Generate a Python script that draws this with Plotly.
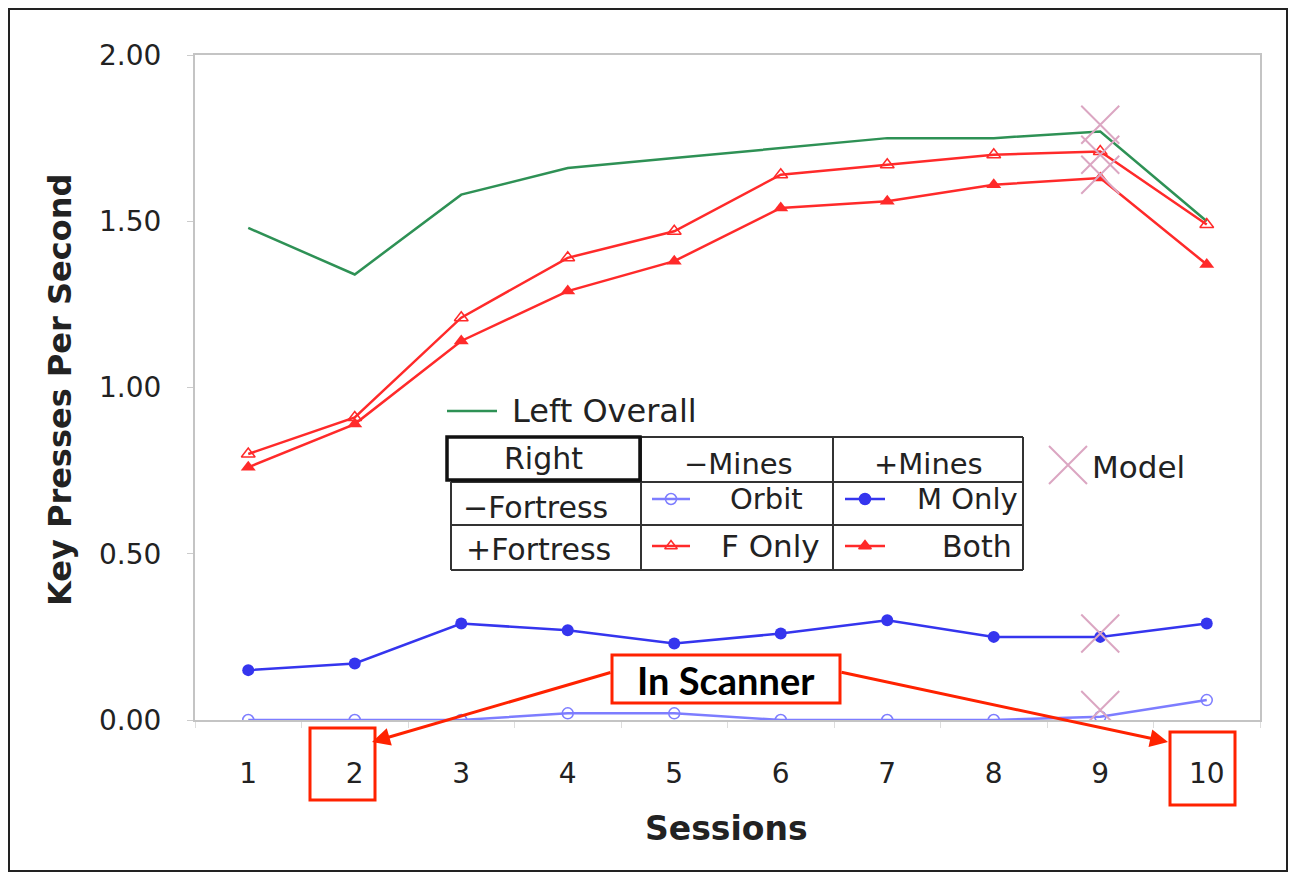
import plotly.graph_objects as go

# ---------------- data ----------------
sessions = ["1", "2", "3", "4", "5", "6", "7", "8", "9", "10"]
left_overall = [1.48, 1.34, 1.58, 1.66, 1.69, 1.72, 1.75, 1.75, 1.77, 1.50]
f_only = [0.80, 0.91, 1.21, 1.39, 1.47, 1.64, 1.67, 1.70, 1.71, 1.49]
both = [0.76, 0.89, 1.14, 1.29, 1.38, 1.54, 1.56, 1.61, 1.63, 1.37]
m_only = [0.15, 0.17, 0.29, 0.27, 0.23, 0.26, 0.30, 0.25, 0.25, 0.29]
orbit = [0.00, 0.00, 0.00, 0.02, 0.02, 0.00, 0.00, 0.00, 0.01, 0.06]
model_sessions = ["9", "9", "9", "9", "9"]
model_values = [1.79, 1.70, 1.64, 0.26, 0.03]
y_ticks = [0.0, 0.5, 1.0, 1.5, 2.0]

# ---------------- styling ----------------
W, H = 1292, 875
L, R, T, B = 195, 1260, 55, 720
GREEN = "#2e9155"
RED = "#ff2a2a"
BLUE = "#3535ee"
LBLUE = "#7d7dff"
PINK = "#dba6c2"
FONT = "DejaVu Sans"


def px(x):
    return (x - L) / (R - L)


def py(y):
    return (B - y) / (B - T)


fig = go.Figure()

fig.add_trace(go.Scatter(x=sessions, y=left_overall, mode="lines",
                         line=dict(color=GREEN, width=2.5), name="Left Overall"))
fig.add_trace(go.Scatter(x=sessions, y=f_only, mode="lines+markers",
                         line=dict(color=RED, width=2.5),
                         marker=dict(symbol="triangle-up-open", size=12, color=RED, line=dict(width=1.5)),
                         name="F Only"))
fig.add_trace(go.Scatter(x=sessions, y=both, mode="lines+markers",
                         line=dict(color=RED, width=2.5),
                         marker=dict(symbol="triangle-up", size=13, color=RED),
                         name="Both"))
fig.add_trace(go.Scatter(x=sessions, y=m_only, mode="lines+markers",
                         line=dict(color=BLUE, width=2.5),
                         marker=dict(symbol="circle", size=12, color=BLUE),
                         name="M Only"))
fig.add_trace(go.Scatter(x=sessions, y=orbit, mode="lines+markers",
                         line=dict(color=LBLUE, width=2.5),
                         marker=dict(symbol="circle-open", size=11, color=LBLUE, line=dict(width=1.5)),
                         name="Orbit"))
fig.add_trace(go.Scatter(x=model_sessions, y=model_values, mode="markers",
                         marker=dict(symbol="x-thin-open", size=38, color=PINK, line=dict(width=2, color=PINK)),
                         name="Model"))

# ---------------- legend glyphs (pixel overlay axis) ----------------
legend_glyphs = [
    (652, 690, 499, LBLUE, "circle-open"),
    (845, 885, 499, BLUE, "circle"),
    (652, 690, 546, RED, "triangle-up-open"),
    (845, 885, 546, RED, "triangle-up"),
]
for x0, x1, yy, col, sym in legend_glyphs:
    fig.add_trace(go.Scatter(x=[x0, x1], y=[yy, yy], mode="lines", line=dict(color=col, width=2.5),
                             xaxis="x2", yaxis="y2", showlegend=False, hoverinfo="skip"))
    fig.add_trace(go.Scatter(x=[(x0 + x1) / 2], y=[yy], mode="markers",
                             marker=dict(symbol=sym, size=11, color=col, line=dict(width=1.5, color=col)),
                             xaxis="x2", yaxis="y2", showlegend=False, hoverinfo="skip"))
fig.add_trace(go.Scatter(x=[447, 497], y=[411, 411], mode="lines", line=dict(color=GREEN, width=2.5),
                         xaxis="x2", yaxis="y2", showlegend=False, hoverinfo="skip"))
fig.add_trace(go.Scatter(x=[1068], y=[465], mode="markers",
                         marker=dict(symbol="x-thin-open", size=38, color=PINK, line=dict(width=2, color=PINK)),
                         xaxis="x2", yaxis="y2", showlegend=False, hoverinfo="skip"))

shapes = []
# outer border
shapes.append(dict(type="rect", xref="paper", yref="paper", x0=px(9), x1=px(1287), y0=py(9), y1=py(871),
                   line=dict(color="#222222", width=2), layer="below"))
# table lines
cols = [447, 641, 833, 1023]
rows = [437, 482, 525, 570]
TC = "#333333"
for yy in rows[1:]:
    shapes.append(dict(type="line", xref="paper", yref="paper", x0=px(cols[0] + 4), x1=px(cols[3]),
                       y0=py(yy), y1=py(yy), line=dict(color=TC, width=2)))
shapes.append(dict(type="line", xref="paper", yref="paper", x0=px(cols[1]), x1=px(cols[3]),
                   y0=py(rows[0]), y1=py(rows[0]), line=dict(color=TC, width=2)))
for xx in cols[1:]:
    shapes.append(dict(type="line", xref="paper", yref="paper", x0=px(xx), x1=px(xx),
                       y0=py(rows[0]), y1=py(rows[3]), line=dict(color=TC, width=2)))
shapes.append(dict(type="line", xref="paper", yref="paper", x0=px(cols[0] + 4), x1=px(cols[0] + 4),
                   y0=py(rows[1]), y1=py(rows[3]), line=dict(color=TC, width=2)))
shapes.append(dict(type="rect", xref="paper", yref="paper", x0=px(cols[0]), x1=px(cols[1] - 1),
                   y0=py(rows[0]), y1=py(rows[1] - 2), line=dict(color="#111111", width=3.5)))
# red boxes
for (x0, y0, x1, y1) in [(612, 655, 840, 703), (310, 728, 375, 800), (1170, 732, 1235, 805)]:
    shapes.append(dict(type="rect", xref="paper", yref="paper", x0=px(x0), x1=px(x1), y0=py(y0), y1=py(y1),
                       line=dict(color="#ff2200", width=3), fillcolor="rgba(0,0,0,0)"))

ann = []


def text(x, y, s, size=28, xanchor="center", bold=False, family=FONT, angle=0, color="#222222"):
    ann.append(dict(x=px(x), y=py(y), xref="paper", yref="paper", text=s, showarrow=False,
                    xanchor=xanchor, yanchor="middle", textangle=angle,
                    font=dict(family=family, size=size, color=color, weight="bold" if bold else "normal")))


text(510, 411, "Left Overall", xanchor="left", size=32)
text(543, 459, "Right", size=30)
text(738, 464, "\u2212Mines", size=29)
text(928, 464, "+Mines", size=29)
text(535, 507, "\u2212Fortress", size=30)
text(538, 549, "+Fortress", size=30)
text(766, 499, "Orbit", size=29)
text(967, 499, "M Only", size=29)
text(771, 546, "F Only", size=31)
text(977, 546, "Both", size=30)
text(1090, 467, "Model", xanchor="left", size=31)
text(726, 680, "In Scanner", size=38, bold=True, family="Lato", color="#000000")
text(60, 390, "Key Presses Per Second", size=32, bold=True, angle=-90)
text(726, 828, "Sessions", size=33, bold=True)

# arrows
for (tx, ty, hx, hy) in [(612, 672, 372, 742), (840, 672, 1168, 742)]:
    ann.append(dict(x=px(hx), y=py(hy), xref="paper", yref="paper", ax=tx - hx, ay=ty - hy,
                    axref="pixel", ayref="pixel", text="", showarrow=True, arrowhead=2,
                    arrowsize=1.2, arrowwidth=3, arrowcolor="#ff2200"))

fig.update_layout(
    width=W, height=H,
    margin=dict(l=L, r=W - R, t=T, b=H - B),
    paper_bgcolor="white", plot_bgcolor="white",
    showlegend=False,
    shapes=shapes, annotations=ann,
    xaxis=dict(type="category", categoryorder="array", categoryarray=sessions,
               range=[-0.5, 9.5], showgrid=False, zeroline=False,
               showline=True, linecolor="#c4c4c4", linewidth=2, mirror=True,
               ticks="outside", tickson="boundaries", ticklen=6, tickcolor="#dddddd",
               tickfont=dict(family=FONT, size=28, color="#222222"), ticklabelstandoff=27),
    yaxis=dict(range=[0, 2], tickvals=y_ticks, tickformat=".2f", showgrid=False, zeroline=False,
               showline=True, linecolor="#c4c4c4", linewidth=2, mirror=True,
               ticks="outside", ticklen=6, tickcolor="#cccccc",
               tickfont=dict(family=FONT, size=28, color="#222222"), ticklabelstandoff=20),
    xaxis2=dict(overlaying="x", range=[L, R], visible=False),
    yaxis2=dict(overlaying="y", range=[B, T], visible=False),
)

fig.write_html("out.html", config={"displayModeBar": False},
               post_script="document.body.style.margin='0px';")
